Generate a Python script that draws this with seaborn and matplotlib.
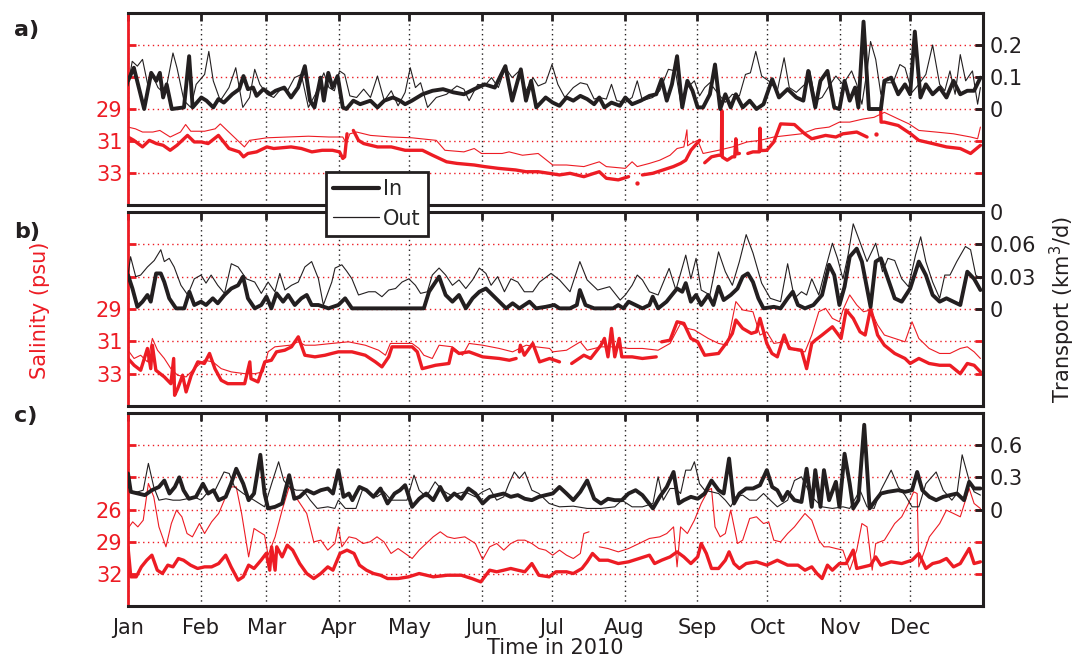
import numpy as np
import pandas as pd
import matplotlib
matplotlib.use('Agg')
import matplotlib.pyplot as plt
from matplotlib.lines import Line2D
import seaborn as sns

nan = np.nan

# month starts (day of 2010) and names
month_days = [0, 31, 59, 90, 120, 151, 181, 212, 243, 273, 304, 334]
month_names = ['Jan', 'Feb', 'Mar', 'Apr', 'May', 'Jun', 'Jul', 'Aug', 'Sep', 'Oct', 'Nov', 'Dec']

# ---------------- panel a ----------------
# transport (km3/d), (day, value)
a_in = [(0,0.088),(2.5,0.129),(6.9,0.0),(9.9,0.113),(12.1,0.088),(13.6,0.113),(15,0.036),(16.5,0.077),(18.7,0.0),(23.9,0.005),
        (26.1,0.165),(27.6,0.005),(31.3,0.036),(33.5,0.026),(36.4,0.005),(38.6,0.031),(40.9,0.02),(44.5,0.046),(47.5,0.062),(49.3,0.103),
        (51.2,0.062),(53.4,0.067),(54.9,0.041),(57.8,0.062),(60.8,0.046),(63,0.057),(66.7,0.067),(69.6,0.036),(72.6,0.067),(75.5,0.134),
        (77.7,0.026),(79.6,0.005),(82.2,0.098),(83.6,0.026),(85.5,0.113),(87.3,0.067),(89.5,0.103),(91.7,0.005),(93.2,0.0),(96.2,0.026),
        (99.1,0.015),(103.5,0.026),(106.5,0.005),(109.4,0.026),(113.1,0.036),(116.1,0.026),(118.3,0.015),(121.2,0.026),(125.7,0.046),(130,0.057),
        (134.5,0.062),(138.9,0.052),(143.4,0.046),(147.8,0.062),(152.2,0.077),(156.6,0.067),(161.1,0.134),(164,0.026),(167.7,0.124),(169.9,0.026),
        (172.1,0.088),(174.3,0.005),(178.3,0.036),(181.3,0.02),(184.2,0.01),(187.2,0.036),(190.1,0.026),(193.1,0.041),(196,0.031),(199,0.015),
        (201.2,0.036),(203.4,0.005),(206.4,0.02),(210,0.01),(212.3,0.036),(215.2,0.015),(218.9,0.026),(222.6,0.041),(225.5,0.046),(227.8,0.093),
        (230,0.026),(232.2,0.077),(234.4,0.165),(236.6,0.005),(238.8,0.088),(241,0.057),(243.2,0.005),(245.5,0.005),(248.4,0.046),(250.6,0.139),
        (252.8,0.0),(255,0.046),(257.3,0.005),(259.5,0.046),(262.4,0.005),(265.4,0.026),(268.3,0.0),(271.3,0.015),(275,0.093),(277.9,0.036),
        (281.6,0.062),(285.3,0.036),(288.3,0.026),(290.4,0.119),(293.4,0.005),(295.6,0.088),(298.6,0.119),(301.5,0.005),(303.7,0.0),(305.9,0.088),
        (308.1,0.026),(310.4,0.067),(311.8,0.005),(314,0.273),(316.3,0.0),(319.2,0.0),(321.4,0.0),(322.9,0.088),(325.8,0.098),(328.8,0.046),
        (331.7,0.077),(333.9,0.046),(335.9,0.242),(338.3,0.036),(340.6,0.077),(343.5,0.046),(346.5,0.067),(349.4,0.036),(352.4,0.088),(355.3,0.046),
        (358.3,0.057),(361.2,0.057),(363.9,0.098)]
a_out = [(0,0.072),(1.8,0.149),(4,0.134),(6.2,0.155),(8.4,0.077),(10.6,0.103),(12.8,0.067),(15.8,0.046),(19.2,0.175),(20.9,0.129),
         (23.9,0.026),(26.8,0.005),(29.1,0.077),(32.7,0.108),(34.5,0.18),(36.4,0.088),(39.4,0.026),(43.1,0.067),(46,0.129),(49,0.005),
         (51.9,0.036),(54.1,0.124),(56.3,0.077),(59.3,0.046),(62.2,0.036),(65.2,0.062),(68.1,0.057),(71.1,0.098),(74,0.108),(77,0.005),
         (80,0.046),(83.6,0.113),(85.8,0.067),(88.1,0.057),(90.3,0.119),(92.5,0.108),(94.7,0.041),(97.6,0.036),(100.6,0.062),(103.5,0.036),
         (106.5,0.103),(109.4,0.026),(112.4,0.057),(115.3,0.01),(118.3,0.052),(120.5,0.129),(122.7,0.067),(124.9,0.082),(127.9,0.005),(131.6,0.036),
         (136,0.046),(140.4,0.072),(143.4,0.062),(145.6,0.026),(149.3,0.077),(152.2,0.072),(155.2,0.098),(158.1,0.067),(161.1,0.129),(164,0.098),
         (167,0.119),(169.9,0.057),(172.9,0.098),(175.1,0.072),(178.3,0.082),(181,0.139),(183.5,0.077),(186.5,0.036),(190.1,0.067),(193.1,0.082),
         (196,0.077),(199,0.031),(201.2,0.036),(204.2,0.031),(206.4,0.077),(208.6,0.026),(212.3,0.021),(215.2,0.036),(217.4,0.088),(219.6,0.026),
         (224,0.036),(227,0.057),(230.7,0.124),(233.7,0.119),(235.9,0.021),(238.8,0.067),(241.8,0.088),(244,0.041),(246.2,0.067),(248.4,0.082),
         (252.1,0.046),(255,0.021),(258,0.046),(261,0.041),(263.6,0.108),(265.7,0.113),(268,0.18),(270.5,0.103),(273.5,0.088),(277.2,0.057),
         (280.1,0.16),(282.3,0.067),(285.3,0.052),(288.9,0.077),(291.1,0.119),(293.4,0.026),(296.3,0.036),(299.3,0.072),(302.2,0.103),(305.2,0.077),
         (308.9,0.119),(311.1,0.077),(313.3,0.015),(315.5,0.119),(317,0.211),(319.2,0.155),(321.4,0.046),(323.6,0.082),(326.6,0.082),(329.5,0.139),
         (331.7,0.129),(334.7,0.052),(337.6,0.077),(340.6,0.108),(343.5,0.2),(346.5,0.077),(348.7,0.057),(350.9,0.119),(353.1,0.046),(355.3,0.17),
         (357.6,0.088),(360.5,0.119),(362.7,0.015),(363.9,0.067)]
# salinity (psu)
a_sal_in = [(0,30.75),(2.5,30.96),(6.2,31.37),(9.1,30.96),(12.1,31.16),(15,31.27),(18,31.58),(20.9,31.27),(25.4,30.65),(28.3,31.06),
            (31.3,31.06),(34.2,31.16),(38.6,30.65),(43.1,31.47),(47.5,31.68),(49.3,31.99),(51.2,31.78),(54.9,31.68),(59.3,31.37),(62.2,31.47),
            (69.6,31.37),(74,31.47),(78.5,31.68),(82.9,31.58),(87.3,31.58),(90.3,31.68),(91.7,32.09),(92.5,31.99),(93.5,30.55),(95,nan),
            (96.2,30.34),(98.4,30.96),(100.6,31.16),(106.5,31.37),(112.4,31.37),(118.3,31.58),(125.7,31.58),(130,31.89),(136,32.3),(140.4,32.4),
            (147.8,32.5),(152.2,32.6),(158.1,32.71),(165.5,32.81),(169.9,32.92),(175.1,32.92),(179.8,33.02),(184.2,33.12),(188.7,33.02),(194.6,33.23),
            (199,33.02),(201.2,32.92),(204.2,33.33),(209.3,33.43),(213.7,33.23),(216,nan),(219.6,33.12),(224,33.02),(228.4,32.81),(232.8,32.6),
            (235.9,32.4),(238.1,32.2),(240.3,31.58),(244,30.96),(245,nan),(246.2,32.36),(249.1,31.99),(252.1,31.89),(253.3,31.89),(253.5,29.1),
            (253.7,32.0),(255.8,32.2),(258,31.99),(259,31.99),(259.5,30.86),(260,31.8),(261,31.78),(262.5,nan),(264.6,31.78),(266.8,31.68),
            (269.5,31.68),(269.8,30.2),(270.1,31.6),(272.7,31.58),(275.7,31.06),(278.6,29.93),(284.5,29.97),(288.9,30.55),(291.9,30.86),(297.8,30.65),
            (302.2,30.75),(305.2,30.55),(311.1,30.44),(315.5,30.75),(317,nan),(321.3,29.0),(321.5,29.82),(322.9,29.82),(328.8,30.03),(334.1,30.55),
            (337.6,30.96),(343.5,31.16),(349.4,31.37),(355.3,31.47),(359.7,31.78),(363.9,31.27)]
a_sal_dots = [(217.4,33.6),(319.2,30.55)]
a_sal_out = [(0,30.13),(3.2,30.24),(6.2,30.44),(10.6,30.44),(13.6,30.34),(18,30.75),(22.4,30.44),(24.6,29.97),(26.8,30.39),(32.7,30.39),
             (37.2,30.24),(39.4,29.93),(41.6,30.24),(49.7,31.37),(51.9,30.96),(59.3,30.8),(68.1,30.75),(77,30.7),(85.8,30.75),(91.7,30.75),
             (93.2,31.16),(94.7,30.55),(97.6,30.44),(103.5,30.65),(112.4,30.75),(121.2,30.8),(131.6,30.96),(135.3,31.58),(143.4,31.68),(147.8,31.47),
             (150.9,31.78),(159.7,31.78),(162.7,31.68),(168.4,31.89),(175.1,31.78),(181.3,32.5),(187.2,32.5),(194.6,32.6),(201.2,32.3),(204.2,32.6),
             (212.3,32.71),(215.2,32.3),(217.4,32.6),(222.6,32.4),(227,32.2),(231.4,31.89),(234.4,31.47),(237.3,31.37),(238.6,30.3),(238.9,31.3),
             (240.3,31.16),(243.2,30.96),(245.5,31.78),(252.1,31.58),(258,31.37),(264.3,31.06),(269.8,30.96),(275.7,30.75),(281.6,30.65),(287.5,30.55),
             (293.4,30.24),(299.3,30.13),(303.7,29.82),(308.1,29.82),(314,29.62),(318.5,29.52),(322.9,29.21),(328.8,29.62),(333.4,29.93),(337.6,30.34),
             (344.9,30.44),(352.4,30.55),(359.7,30.75),(362.7,30.86),(363.9,30.13)]

# ---------------- panel b ----------------
b_in = [(0,0.0315),(1.9,0.019),(4,0.002),(6.2,0.0068),(8.3,0.013),(9.7,0.0068),(12,0.033),(14,0.033),(15.5,0.025),(17.6,0.0099),
        (20.5,0.0006),(24,0.0006),(26.2,0.016),(28.3,0.0037),(31.2,0.0068),(33.3,0.0037),(36.2,0.0099),(38.3,0.0053),(41.2,0.013),(44.1,0.019),
        (47,0.022),(49.1,0.030),(51.2,0.0099),(54.1,0.0006),(56.9,0.0037),(59.1,0.0114),(61.2,0.0006),(63.4,0.0145),(66.2,0.0068),(68.4,0.013),
        (71.2,0.0037),(74,0.0099),(76.3,0.013),(78.4,0.0037),(81.3,0.0037),(85.6,0.0006),(89.8,0.0037),(92.7,0.0099),(95.6,0.0006),(101.3,0.0006),
        (108.4,0.0006),(115.6,0.0006),(122.7,0.0006),(126.3,0.0006),(128.5,0.016),(131.3,0.025),(132.8,0.030),(135.6,0.013),(138.5,0.0068),(141.3,0.013),
        (144.2,0.0006),(147.1,0.0099),(150,0.016),(152.8,0.019),(155.6,0.013),(158.5,0.0068),(161.4,0.0006),(164.2,0.0053),(167.1,0.0006),(171.4,0.0068),
        (174.2,0.0006),(178.3,0.002),(182,0.0037),(184.2,0.0006),(188.7,0.0006),(191.6,0.0037),(192.9,0.0176),(195.3,0.0037),(199,0.0006),(203.4,0.0006),
        (207.1,0.0006),(209.3,0.0037),(211.5,0.0006),(213.7,0.0068),(216.7,0.0037),(219.6,0.0006),(222.6,0.0037),(224,0.0114),(226.3,0.0006),(229.9,0.0068),
        (234.4,0.019),(236.6,0.016),(238.1,0.024),(240.3,0.0068),(242.5,0.013),(244.7,0.0037),(247.7,0.013),(249.9,0.0037),(252.1,0.0207),(254.3,0.0083),
        (257.3,0.013),(260.2,0.019),(262.4,0.030),(264.6,0.033),(266.8,0.025),(269.1,0.0099),(271.3,0.0006),(275.7,0.002),(278.6,0.0006),(281.6,0.0099),
        (283.8,0.016),(286,0.0037),(289,0.0006),(292.6,0.0037),(296.3,0.013),(299.3,0.041),(301.5,0.0315),(303.7,0.0037),(305.9,0.0207),(308.1,0.0485),
        (311.1,0.056),(313.3,0.044),(315.5,0.019),(317,0.002),(319.2,0.044),(321.4,0.047),(324.4,0.028),(327.3,0.0099),(330.3,0.0068),(333.9,0.019),
        (337.6,0.044),(340.6,0.0315),(343.5,0.013),(346.5,0.0068),(349.4,0.0099),(352.4,0.0068),(355.3,0.0037),(358.3,0.0346),(361.2,0.028),(363.9,0.0176)]
b_out = [(0,0.0315),(1.1,0.0485),(3.3,0.030),(5.4,0.0315),(8.3,0.039),(11.2,0.045),(14,0.055),(15.5,0.044),(17.6,0.047),(19.7,0.039),
         (22.6,0.022),(25.5,0.013),(28.3,0.028),(31.2,0.0315),(33.3,0.024),(35.5,0.0315),(38.3,0.022),(41.2,0.0145),(44.1,0.042),(47,0.039),
         (50.5,0.028),(54.1,0.025),(56.9,0.0145),(59.8,0.025),(62.7,0.016),(64.8,0.033),(67,0.0176),(69.8,0.022),(72.7,0.025),(75.5,0.039),
         (78.4,0.044),(81.3,0.028),(83.4,0.0037),(87,0.025),(88.4,0.038),(91.3,0.041),(93.4,0.035),(95.6,0.028),(98.4,0.013),(102.7,0.016),
         (105.6,0.016),(108.4,0.0114),(111.3,0.0176),(114.2,0.019),(117,0.025),(119.9,0.028),(122.7,0.022),(124.9,0.0145),(127.8,0.016),(129.9,0.0315),
         (132.8,0.038),(135.6,0.0315),(138.5,0.022),(141.3,0.027),(144.2,0.019),(147.1,0.027),(150,0.038),(152.8,0.033),(155,0.022),(157.8,0.030),
         (160.7,0.016),(163.5,0.028),(166.4,0.025),(169.2,0.016),(172.8,0.016),(175.7,0.025),(180.6,0.033),(184.2,0.027),(188.7,0.016),(192.9,0.044),
         (196,0.027),(200.5,0.0176),(205.6,0.0207),(210.1,0.0083),(212.3,0.013),(215.2,0.022),(217.4,0.0315),(219.6,0.027),(222.6,0.016),(226.3,0.013),
         (231,0.0377),(233.9,0.0176),(238.1,0.050),(240.3,0.028),(242.5,0.047),(244.7,0.0176),(248.4,0.013),(252.1,0.053),(255,0.0346),(258,0.022),
         (261,0.044),(263.9,0.069),(266.8,0.052),(270.5,0.024),(274.2,0.0099),(278.6,0.0068),(281.6,0.042),(284.5,0.0099),(287.5,0.016),(289.7,0.013),
         (291.9,0.028),(294.9,0.013),(297.8,0.0377),(300.7,0.061),(302.9,0.047),(305.2,0.028),(307.4,0.050),(309.6,0.079),(312.5,0.062),(315.5,0.044),
         (319.2,0.061),(322.1,0.0346),(324.4,0.047),(327.3,0.045),(330.3,0.028),(333.2,0.0207),(336.2,0.050),(338.4,0.067),(340.6,0.044),(343.5,0.025),
         (346.5,0.0099),(348.7,0.0315),(350.9,0.0315),(353.8,0.044),(357.5,0.058),(359.7,0.055),(361.9,0.0315),(363.9,0.028)]
b_sal_in = [(0,32.06),(2.6,32.48),(5.4,32.79),(8.3,31.44),(9.7,32.69),(10.4,31.24),(11.9,32.79),(15.5,33.2),(18.3,33.62),(19.5,32.06),
            (19.9,34.34),(21.2,33.93),(23.3,33.1),(24.8,34.13),(27,33.1),(29.8,32.27),(32.6,32.37),(34.8,31.75),(37.1,32.69),(39.8,33.41),
            (42.6,33.62),(47,33.62),(49.8,33.62),(52,32.27),(52.5,33.31),(55.5,33.51),(58.4,32.27),(61.2,32.17),(63.4,31.65),(66.9,31.55),
            (69.8,31.34),(72.7,30.72),(75.5,31.86),(79.8,31.96),(84.1,31.86),(87,31.75),(89.8,31.65),(95.6,31.65),(101.3,31.86),(105.6,32.27),
            (108.4,32.58),(111.3,31.96),(112.7,31.34),(121.3,31.34),(123.5,31.65),(125.6,32.69),(131.3,32.48),(137,32.37),(138.5,31.44),(141.3,31.75),
            (145.6,31.65),(151.4,31.96),(158.5,32.06),(162.8,32.17),(165.7,32.06),(166.4,nan),(167.1,31.65),(167.5,31.24),(169.2,31.86),(172.8,31.13),
            (175.7,32.27),(180,32.06),(184.2,32.27),(186.5,nan),(189.4,32.37),(194.6,31.86),(197.5,32.06),(201.9,31.24),(203.4,30.82),(204.9,31.96),
            (206.4,30.2),(207.8,31.96),(209.7,30.82),(210.8,31.96),(215.2,31.96),(219.6,32.06),(225.5,31.96),(226.5,nan),(227.8,31.03),(231.4,30.93),
            (234.4,29.79),(237.3,29.89),(240.3,30.82),(243.2,31.03),(246.2,31.86),(252.1,31.75),(255.8,31.03),(258,30.51),(259.5,29.68),(262.4,30.2),
            (266.1,30.51),(268.3,30.41),(269.8,29.58),(272.7,31.13),(274.9,31.75),(277.2,31.96),(280.1,30.61),(282.3,31.44),(287.5,31.55),(289.7,32.69),
            (291.9,31.13),(293.4,30.93),(296.3,30.61),(300.7,30.1),(304.4,30.82),(306.6,29.06),(309.6,29.58),(312.5,30.41),(314.7,30.61),(317,28.96),
            (320,30.61),(322.9,31.24),(327.3,31.75),(331.7,32.06),(333.9,32.37),(337.6,32.06),(342,32.37),(346.5,32.48),(350.9,32.48),(355.3,33.0),
            (358.3,32.37),(361.2,32.48),(363.9,32.89)]
b_sal_out = [(0,31.55),(2.6,32.06),(5.4,31.86),(8.3,32.27),(10.4,30.82),(12.6,31.55),(15.5,32.06),(18.3,32.69),(21.2,33.1),(24.8,33.2),
             (28.3,32.69),(32.6,32.17),(36.2,32.27),(39.8,32.69),(44.1,32.89),(49.8,33.0),(54.1,33.0),(57.7,32.89),(59.8,31.65),(62.7,31.34),
             (69.1,31.24),(72.7,31.03),(75.5,31.24),(79.8,31.24),(87,31.13),(94.1,31.03),(101.3,31.24),(107,31.55),(109.9,31.86),(112,31.13),
             (121.3,31.13),(124.2,31.44),(126.3,31.86),(129.9,32.06),(132.8,31.24),(138.5,31.34),(142.8,31.86),(145.6,31.13),(151.4,31.24),(158.5,31.44),
             (164.2,31.65),(170,31.24),(174.2,31.34),(180,31.44),(181.3,31.65),(187.2,31.55),(193.1,31.03),(196,31.55),(201.9,31.34),(207.8,31.34),
             (213.7,31.44),(219.6,31.44),(226.3,31.55),(231.4,31.13),(235.9,29.89),(238.8,30.2),(241.8,30.3),(247.7,30.82),(252.1,31.13),(255.8,31.24),
             (259.5,28.54),(262.4,29.06),(266.8,29.17),(269.8,30.61),(272.7,30.41),(275.7,31.13),(280.1,31.03),(284.5,31.55),(289,31.65),(291.9,30.61),
             (294.9,29.17),(297.8,28.96),(300.7,29.58),(303.7,29.79),(305.2,29.06),(308.1,28.13),(311.1,28.75),(314,29.17),(317,29.06),(320,29.99),
             (322.9,30.61),(327.3,30.82),(331.7,31.03),(334.7,29.79),(337.6,30.82),(342,31.44),(346.5,31.75),(350.9,31.75),(355.3,31.44),(358.3,31.34),
             (361.2,31.65),(363.9,32.06)]

# ---------------- panel c ----------------
c_in = [(0,0.336),(1.2,0.165),(4.2,0.149),(7.2,0.134),(10.2,0.18),(13.2,0.21),(15.5,0.27),(17.7,0.149),(20,0.21),(21.9,0.30),
        (23.7,0.18),(26,0.10),(29,0.118),(32,0.24),(34.2,0.149),(36.5,0.18),(38.7,0.087),(41.7,0.118),(44,0.24),(46.2,0.38),
        (49.2,0.24),(51.5,0.087),(53.8,0.149),(56.5,0.51),(58.3,0.149),(59.8,0.01),(62.8,0.025),(65.8,0.056),(68.8,0.32),(71,0.10),
        (73.3,0.118),(76.3,0.18),(79.3,0.149),(82.3,0.18),(85.3,0.196),(87.5,0.149),(89.8,0.367),(92,0.118),(94.3,0.149),(95.8,0.087),
        (98.8,0.21),(101.8,0.18),(104.8,0.118),(107.8,0.196),(110.8,0.056),(113.8,0.149),(116.1,0.18),(118.3,0.227),(121.3,0.025),(124.3,0.10),
        (127.3,0.149),(130.3,0.087),(133.3,0.21),(136.3,0.087),(139.3,0.149),(142.3,0.10),(145.3,0.196),(148.3,0.149),(151.4,0.056),(154.4,0.118),
        (157.4,0.134),(160.4,0.149),(163.4,0.118),(166.4,0.134),(169.4,0.10),(172.4,0.087),(175.4,0.118),(178.3,0.134),(181.3,0.149),(184.2,0.21),
        (187.2,0.149),(190.1,0.087),(193.1,0.165),(196,0.27),(199,0.10),(201.9,0.056),(204.9,0.10),(207.8,0.087),(210.8,0.087),(213.7,0.149),
        (216.7,0.18),(219.6,0.134),(224.1,0.01),(227,0.118),(230,0.21),(232.9,0.35),(235.1,0.056),(237.3,0.087),(240.3,0.118),(243.2,0.10),
        (246.2,0.149),(249.1,0.27),(252.1,0.18),(254.3,0.149),(256.6,0.475),(258.7,0.056),(261,0.149),(263.9,0.196),(266.8,0.196),(269.8,0.227),
        (272.7,0.367),(275,0.21),(277.2,0.18),(279.5,0.087),(281.6,0.165),(284.5,0.087),(287.5,0.07),(289.7,0.38),(291.9,0.025),(293.4,0.367),
        (295.6,0.025),(297.1,0.367),(299.3,0.087),(302.2,0.258),(303.7,0.025),(305.9,0.52),(308.1,0.24),(309.6,0.01),(311.8,0.087),(314.3,0.79),
        (316.6,0.01),(319.2,0.087),(321.4,0.149),(324.4,0.165),(328.8,0.18),(331.7,0.165),(334.7,0.18),(336.9,0.35),(339.1,0.18),(342.1,0.118),
        (345,0.087),(348,0.118),(350.9,0.134),(353.9,0.149),(356.9,0.087),(359.1,0.258),(361.2,0.196),(363.9,0.196)]
c_out = [(0,0.21),(2,0.165),(4.2,0.165),(6.5,0.18),(8.7,0.43),(11,0.21),(13.2,0.087),(16.2,0.10),(19.2,0.087),(22.2,0.087),
         (25.2,0.10),(28.2,0.118),(31.2,0.087),(34.2,0.165),(37.2,0.18),(41,0.35),(43.2,0.336),(45.5,0.21),(49.2,0.149),(53.8,0.087),
         (58.3,0.025),(61.3,0.24),(64.3,0.445),(66.5,0.27),(68.8,0.21),(71.8,0.18),(74.8,0.18),(77.8,0.087),(80.8,0.01),(85.3,0.025),
         (88.3,0.01),(89.8,0.087),(92.8,0.01),(97.3,0.01),(100.3,0.196),(103.3,0.149),(106.3,0.118),(109.3,0.165),(112.3,0.087),(115.3,0.087),
         (119.1,0.087),(122.1,0.32),(124.3,0.18),(127.3,0.118),(131.1,0.258),(134.1,0.18),(137.8,0.134),(140.8,0.149),(143.8,0.165),(148.3,0.118),
         (151.4,0.165),(154.4,0.196),(157.4,0.087),(160.4,0.118),(162.6,0.24),(164.9,0.35),(167.1,0.29),(169.4,0.35),(172.4,0.18),(175.4,0.149),
         (179.8,0.056),(184.2,0.025),(190.1,0.031),(196,0.01),(201.9,0.01),(207.8,0.025),(210.8,0.087),(215.2,0.025),(219.6,0.025),(224.1,0.056),
         (226.3,0.305),(228.5,0.087),(231.4,0.196),(233.7,0.196),(235.9,0.149),(238.1,0.367),(240.3,0.367),(241.8,0.445),(244,0.24),(246.2,0.18),
         (249.1,0.165),(252.1,0.149),(255,0.087),(257.3,0.025),(259.5,0.118),(262.4,0.134),(265.4,0.087),(268.3,0.087),(271.3,0.149),(274.2,0.087),
         (277.2,0.025),(281.6,0.087),(284.5,0.27),(287.5,0.305),(291.9,0.118),(296.3,0.025),(300.7,0.01),(305.2,0.025),(308.1,0.01),(312.5,0.18),
         (315.5,0.025),(318.5,0.01),(321.4,0.18),(325.8,0.367),(328.8,0.21),(331.7,0.134),(334.7,0.025),(337.6,0.025),(340.6,0.24),(345,0.35),
         (348,0.18),(351.7,0.087),(353.9,0.149),(356.1,0.51),(359.1,0.27),(361.2,0.165),(363.9,0.134)]
c_sal_in = [(0,29.48),(1.2,32.28),(3.5,32.28),(5.7,31.35),(8,30.73),(10.2,30.26),(12.5,31.66),(14.7,31.97),(17,31.19),(19.2,31.35),
            (21.5,30.57),(23.7,30.73),(26.7,31.19),(29.7,31.5),(32.7,31.35),(35.7,31.35),(38.7,31.04),(41.7,30.26),(44,31.35),(47,32.59),
            (49.2,32.28),(51.5,31.19),(53.8,31.5),(56.8,30.73),(59,30.1),(60.5,31.66),(61.3,29.48),(62.8,31.66),(63.5,29.48),(65.8,30.42),
            (68,29.33),(70.3,29.79),(73.3,31.04),(76.3,31.97),(79.3,32.44),(82.3,31.97),(85.3,31.35),(87.5,31.66),(90.5,30.1),(93.5,29.79),
            (96.5,30.1),(98.8,31.19),(101.8,31.66),(104.8,31.97),(107.8,32.13),(110.8,32.44),(115.3,32.44),(119.8,32.28),(124.3,31.97),(130.3,32.28),
            (136.3,32.13),(142.3,32.13),(146.8,32.44),(150.6,32.75),(154.4,31.66),(157.4,31.81),(160.4,31.66),(163.4,31.5),(166.4,31.66),(169.4,31.81),
            (172.4,31.04),(175.4,32.13),(179.8,32.28),(182.7,31.81),(187.2,31.81),(190.1,31.97),(193.8,31.5),(196,30.88),(198.3,30.1),(201.2,30.73),
            (204.9,30.73),(209.3,31.04),(213.7,30.88),(218.2,30.57),(222.6,30.26),(224.8,31.04),(227.8,30.73),(231.4,30.42),(234.4,29.95),(237.3,30.42),
            (240.3,31.04),(243.2,30.42),(244.7,29.17),(246.9,30.1),(249.1,31.5),(252.1,31.5),(255,30.73),(256.6,29.95),(258.7,31.04),(261,31.5),
            (263.9,31.04),(268.3,30.88),(272.7,31.19),(277.2,30.73),(281.6,31.19),(286,31.19),(289,31.66),(291.9,31.35),(294.1,31.97),(296.3,32.44),
            (298.6,31.19),(300.7,31.66),(303.7,31.04),(306.6,31.04),(309.6,29.79),(311.1,31.5),(314,31.35),(317,31.19),(319.2,30.42),(321.4,31.19),
            (325.8,30.88),(330.3,31.04),(334.7,30.73),(337.6,30.1),(340.6,31.5),(343.5,31.04),(346.5,30.88),(349.4,30.57),(352.4,31.35),(355.3,31.04),
            (359.1,29.64),(361.2,31.04),(363.9,30.88)]
c_sal_out = [(0,27.77),(2,27.15),(4.2,27.62),(6.5,27.0),(8.7,23.57),(11,24.82),(13.2,27.62),(16.2,29.48),(18.5,27.31),(20.7,26.06),
             (23,26.68),(25.2,28.24),(27.5,28.55),(30.5,27.31),(32.7,28.24),(35.7,27.15),(38.7,26.37),(41.7,24.82),(44,23.89),(46.2,23.89),
             (48.5,26.37),(51.5,30.42),(53.8,27.77),(56,28.08),(58.3,28.39),(59.8,30.26),(62.8,28.55),(65.8,26.06),(68.8,23.89),(72.5,25.13),
             (76.3,26.37),(79.3,29.02),(82.3,28.86),(85.3,29.79),(88.3,29.17),(89.8,27.62),(91.3,29.48),(94.3,28.55),(97.3,28.7),(100.3,29.17),
             (103.3,29.02),(106.3,28.55),(109.3,29.02),(112.3,30.1),(115.3,29.64),(118.3,30.1),(121.3,30.57),(124.3,29.79),(127.3,29.17),(130.3,28.55),
             (133.3,28.08),(136.3,28.55),(139.3,28.7),(143.8,28.55),(148.3,29.17),(151.4,30.67),(154.4,29.48),(157.4,29.17),(160.4,29.79),(163.4,29.17),
             (166.4,28.86),(169.4,28.86),(172.4,29.17),(175.4,29.64),(178.3,29.79),(181.3,30.26),(184.2,29.79),(187.2,30.26),(190.1,30.57),(193.1,30.1),
             (194.6,28.24),(196.8,28.08),(199,nan),(201.2,29.48),(204.9,29.64),(209.3,29.95),(213.7,29.64),(218.2,29.17),(222.6,28.7),(227,28.55),
             (230,28.24),(232.9,27.62),(234.4,31.35),(235.9,27.62),(238.8,28.24),(241.8,27.0),(244.7,25.44),(247.7,24.2),(249.1,24.04),(250.6,27.62),
             (252.8,28.55),(255,28.24),(257.3,26.06),(260.2,29.17),(262.4,28.86),(265.4,26.84),(268.3,26.68),(271.3,27.31),(273.5,27.15),(275.7,28.86),
             (278.6,29.02),(281.6,28.24),(284.5,27.62),(289,26.37),(291.9,27.0),(294.9,28.86),(297.1,29.48),(299.3,29.48),(302.2,29.64),(305.2,29.79),
             (308.1,31.66),(311.1,29.79),(313.3,27.31),(315.5,27.62),(317.7,31.66),(319.2,29.17),(322.9,28.86),(327.3,27.31),(330.3,26.68),(333.2,25.44),
             (335.4,24.35),(336.9,24.51),(337.6,31.35),(339.1,30.42),(342.1,28.55),(346.5,27.31),(349.4,26.06),(352.4,26.37),(355.3,26.68),(359.1,24.04),
             (361.2,25.44),(363.9,25.91)]

# axis setup per panel: salinity ticks / labels, transport ticks / labels, limits
sal_ticks = {'a': [25, 27, 29, 31, 33], 'b': [25, 27, 29, 31, 33], 'c': [20, 23, 26, 29, 32]}
sal_labels = {'a': ['', '', '29', '31', '33'], 'b': ['', '', '29', '31', '33'], 'c': ['', '', '26', '29', '32']}
sal_lim = {'a': (35, 23), 'b': (35, 23), 'c': (35, 17)}
tr_ticks = {'a': [0, 0.1, 0.2], 'b': [0, 0.03, 0.06, 0.09], 'c': [0, 0.3, 0.6]}
tr_labels = {'a': ['0', '0.1', '0.2'], 'b': ['0', '0.03', '0.06', '0'], 'c': ['0', '0.3', '0.6']}
tr_lim = {'a': (-0.3, 0.3), 'b': (-0.09, 0.09), 'c': (-0.9, 0.9)}

RED = '#ed1c24'
BLK = '#231f20'

sns.set_style('white')
plt.rcParams['font.family'] = ['DejaVu Sans']
plt.rcParams['axes.linewidth'] = 2.0


def draw(ax, pts, color, lw):
    d = pd.DataFrame(pts, columns=['day', 'val'])
    grp = d['val'].isna().cumsum()
    ok = d['val'].notna()
    for _, g in d[ok].groupby(grp[ok]):
        sns.lineplot(x=g['day'].values, y=g['val'].values, ax=ax, color=color, lw=lw,
                     estimator=None, sort=False, legend=False)


fig = plt.figure(figsize=(10.82, 6.62), dpi=100)
W, H = 1082, 662
L, R = 128, 983
boxes = {'a': (13, 205), 'b': (212, 406), 'c': (413, 606)}
series = {'a': (a_in, a_out, a_sal_in, a_sal_out),
          'b': (b_in, b_out, b_sal_in, b_sal_out),
          'c': (c_in, c_out, c_sal_in, c_sal_out)}

for key in ['a', 'b', 'c']:
    top, bot = boxes[key]
    ax = fig.add_axes([L / W, 1 - bot / H, (R - L) / W, (bot - top) / H])
    ax2 = ax.twinx()
    tin, tout, sin, sout = series[key]

    draw(ax, sout, RED, 0.8)
    draw(ax, sin, RED, 2.4)
    if key == 'a':
        dd = pd.DataFrame(a_sal_dots, columns=['day', 'val'])
        sns.scatterplot(x=dd['day'].values, y=dd['val'].values, ax=ax, color=RED, s=8,
                        edgecolor=RED, legend=False)
    draw(ax2, tout, BLK, 0.8)
    draw(ax2, tin, BLK, 2.8)

    ax.set_xlim(0, 365)
    ax.set_ylim(*sal_lim[key])
    ax.set_yticks(sal_ticks[key])
    ax.set_yticklabels(sal_labels[key])
    ax.set_xticks(month_days)
    ax.set_xticklabels(month_names if key == 'c' else [])
    ax.grid(True, axis='x', color=BLK, linestyle=(0, (1, 2.5)), lw=1.0)
    ax.grid(True, axis='y', color=RED, linestyle=(0, (1, 2.5)), lw=1.0)
    ax.tick_params(axis='y', which='both', direction='in', length=6, width=2, colors=RED,
                   labelsize=15, right=True, pad=4)
    ax.tick_params(axis='x', direction='in', length=6, width=2, colors=BLK, labelsize=15,
                   top=True, pad=9)
    ax.set_xlabel('')
    ax.set_ylabel('')
    ax.spines['left'].set_color(RED)
    ax.spines['right'].set_visible(False)
    for s in ['top', 'bottom']:
        ax.spines[s].set_color(BLK)
        ax.spines[s].set_linewidth(2.2)

    ax2.set_ylim(*tr_lim[key])
    ax2.set_yticks(tr_ticks[key])
    ax2.set_yticklabels(tr_labels[key])
    ax2.tick_params(axis='y', direction='in', length=6, width=2, colors=BLK, labelsize=15, pad=5)
    ax2.set_ylabel('')
    for s in ['left', 'top', 'bottom']:
        ax2.spines[s].set_visible(False)
    ax2.spines['right'].set_color(BLK)
    ax2.spines['right'].set_linewidth(2.2)

    fig.text(14 / W, 1 - (30 if key == 'a' else (top + 20 if key == 'b' else top + 3)) / H,
             key + ')', fontsize=16, fontweight='bold', color=BLK, va='center')

fig.text(40 / W, 1 - 310 / H, 'Salinity (psu)', rotation=90, color=RED, fontsize=15,
         ha='center', va='center')
fig.text(1062 / W, 1 - 310 / H, 'Transport (km$^3$/d)', rotation=90, color=BLK, fontsize=15,
         ha='center', va='center')
fig.text(555 / W, 1 - 648 / H, 'Time in 2010', color=BLK, fontsize=15, ha='center', va='center')

handles = [Line2D([], [], color=BLK, lw=3), Line2D([], [], color=BLK, lw=0.9)]
leg = fig.legend(handles, ['In', 'Out'], loc='upper left', bbox_to_anchor=(326 / W, 1 - 172 / H),
                 frameon=True, fancybox=False, framealpha=1, edgecolor=BLK, fontsize=15,
                 handlelength=2.2, handletextpad=0.2, borderpad=0.35, labelspacing=0.45,
                 borderaxespad=0)
leg.get_frame().set_linewidth(2)

fig.savefig('out.png', dpi=100)
